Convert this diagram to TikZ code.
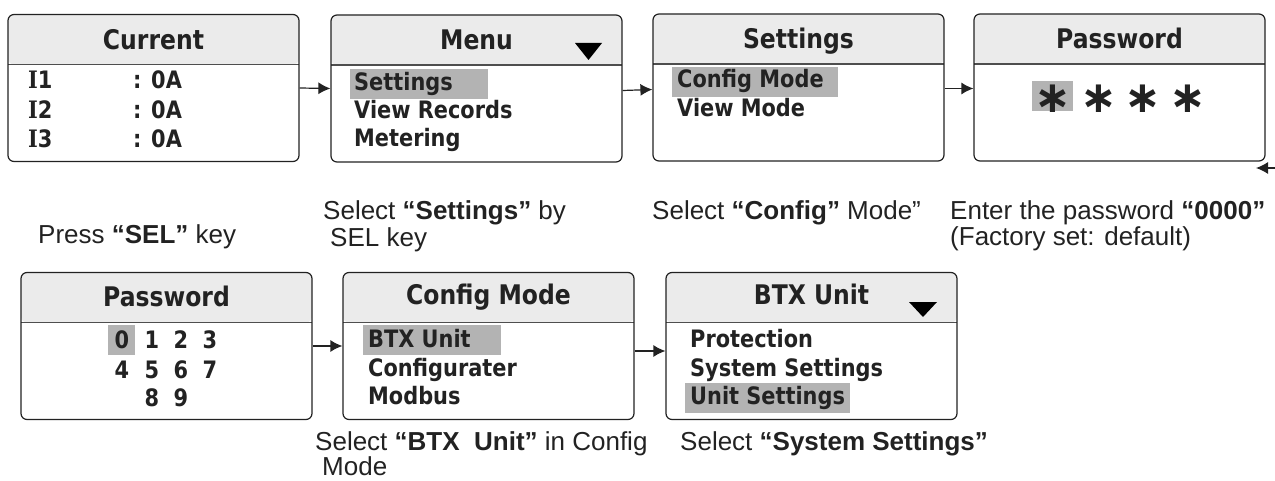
\documentclass[tikz,border=0pt]{standalone}
\usepackage{fontspec}
\setmainfont{Liberation Sans}
\newfontfamily\bx{DejaVu Sans}[FakeStretch=0.87]
\newfontfamily\bxs{DejaVu Serif}[FakeStretch=0.87]
\newfontfamily\sym{DejaVu Sans}
\usetikzlibrary{arrows.meta}
\definecolor{ink}{HTML}{222222}
\definecolor{hdr}{HTML}{EBEBEB}
\definecolor{hil}{HTML}{B3B3B3}
\tikzset{
  scr/.style={draw=ink, line width=1.2pt, rounded corners=6pt, minimum width=291pt, minimum height=147pt, inner sep=0pt,
    path picture={\fill[hdr] (path picture bounding box.north west) rectangle ([yshift=-50pt]path picture bounding box.north east);
      \draw[ink!80, line width=1.2pt] ([yshift=-50pt]path picture bounding box.north west) -- ([yshift=-50pt]path picture bounding box.north east);}},
  ttl/.style={anchor=base, inner sep=0pt, text=ink, font=\bx\bfseries\fontsize{27}{27}\selectfont},
  itm/.style={anchor=base west, inner sep=0pt, text=ink, font=\bx\bfseries\fontsize{24}{24}\selectfont},
  dig/.style={anchor=base, inner sep=0pt, text=ink, font=\bx\bfseries\fontsize{24}{24}\selectfont},
  ast/.style={anchor=center, inner sep=0pt, text=ink, font=\sym\bfseries\fontsize{44}{44}\selectfont},
  lbl/.style={anchor=base west, inner sep=0pt, text=ink, font=\fontsize{26}{26}\selectfont},
  arr/.style={draw=ink, line width=1.2pt, -{Latex[length=12pt,width=12pt]}},
  tri/.style={fill=black},
  hl/.style={fill=hil}
}
\begin{document}
\begin{tikzpicture}[x=1pt,y=-1pt]
\useasboundingbox (0,0) rectangle (1275,481);
\clip (0,0) rectangle (1275,481);
% boxes
\node[scr] (b1) at (153.5,88) {};
\node[scr] (b2) at (476.5,88.5) {};
\node[scr] (b3) at (798.5,87.5) {};
\node[scr] (b4) at (1119.5,87.5) {};
\node[scr] (b5) at (166.5,346) {};
\node[scr] (b6) at (488.5,346) {};
\node[scr] (b7) at (811.5,346) {};
% highlights
\fill[hl] (350,69) rectangle (488,99);
\fill[hl] (672,67) rectangle (838,97);
\fill[hl] (1032,81) rectangle (1073,111);
\fill[hl] (108,325) rectangle (135,355);
\fill[hl] (363,325) rectangle (501,355);
\fill[hl] (685,383) rectangle (850,413);
% triangles
\fill[tri] (575,43) -- (602,43) -- (588.5,60) -- cycle;
\fill[tri] (909,302) -- (937,302) -- (923,317) -- cycle;
% titles
\node[ttl] (t1) at (153.5,50) {Current};
\node[ttl] (t2) at (476.5,50) {Menu};
\node[ttl] (t3) at (798.5,49) {Settings};
\node[ttl] (t4) at (1119.5,49) {Password};
\node[ttl] (t5) at (166.5,306) {Password};
\node[ttl] (t6) at (488.5,305) {Config Mode};
\node[ttl] (t7) at (811.5,305) {BTX Unit};
% box 1
\node[itm] (c1a) at (28,89) {{\bxs I}1};
\node[itm] (c1b) at (133,89) {: 0A};
\node[itm] (c2a) at (28,119) {{\bxs I}2};
\node[itm] (c2b) at (133,119) {: 0A};
\node[itm] (c3a) at (28,148) {{\bxs I}3};
\node[itm] (c3b) at (133,148) {: 0A};
% box 2
\node[itm] (m1) at (354,91) {Settings};
\node[itm] (m2) at (354,119) {View Records};
\node[itm] (m3) at (354,147) {Metering};
% box 3
\node[itm] (s1) at (677,88) {Config Mode};
\node[itm] (s2) at (677,117) {View Mode};
% box 4
\node[ast] (a1) at (1053,99) {∗};
\node[ast] (a2) at (1099,99) {∗};
\node[ast] (a3) at (1143,99) {∗};
\node[ast] (a4) at (1188,99) {∗};
% box 5
\node[dig] (d0) at (122,348) {0};
\node[dig] (d1) at (152,348) {1};
\node[dig] (d2) at (181,348) {2};
\node[dig] (d3) at (210,348) {3};
\node[dig] (d4) at (122,378) {4};
\node[dig] (d5) at (152,378) {5};
\node[dig] (d6) at (181,378) {6};
\node[dig] (d7) at (210,378) {7};
\node[dig] (d8) at (152,406) {8};
\node[dig] (d9) at (181,406) {9};
% box 6
\node[itm] (g1) at (368,347) {BTX Unit};
\node[itm] (g2) at (368,376) {Configurater};
\node[itm] (g3) at (368,404) {Modbus};
% box 7
\node[itm] (u1) at (690,347) {Protection};
\node[itm] (u2) at (690,376) {System Settings};
\node[itm] (u3) at (690,404) {Unit Settings};
% labels
\node[lbl] (l1) at (38,244) {Press \textbf{“SEL”} key};
\node[lbl] (l2a) at (323,220) {Select \textbf{“Settings”} by};
\node[lbl] (l2b) at (330,247) {SEL key};
\node[lbl] (l3) at (652,220) {Select \textbf{“Config”} Mode”};
\node[lbl] (l4a) at (950,220) {Enter the password \textbf{“0000”}};
\node[lbl] (l4b) at (950,246) {(Factory set: default)};
\node[lbl] (l5a) at (315,450) {Select \textbf{“BTX\ \ Unit”} in Config};
\node[lbl] (l5b) at (322,475) {Mode};
\node[lbl] (l6) at (680,450) {Select \textbf{“System Settings”}};
% connectors
\draw[arr] (b1.east) -- (b2.west);
\draw[arr] ([yshift=-2pt]b2.east) -- ([yshift=-2pt]b3.west);
\draw[arr] ([yshift=-1pt]b3.east) -- ([yshift=-1pt]b4.west);
\draw[arr] (b5.east) -- (b6.west);
\draw[arr] ([yshift=-5pt]b6.east) -- ([yshift=-5pt]b7.west);
\coordinate (e1) at (1290,168);
\coordinate (e2) at (1256,168);
\draw[arr] (e1) -- (e2);
\end{tikzpicture}
\end{document}
